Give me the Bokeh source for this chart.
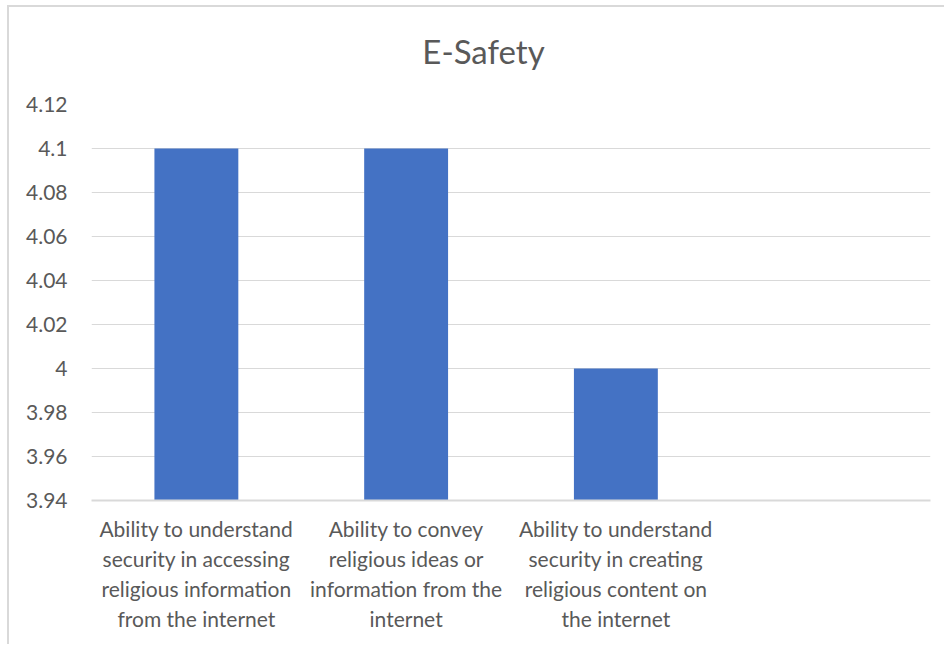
from bokeh.plotting import figure
from bokeh.models import ColumnDataSource, Range1d, FixedTicker, Label
from bokeh.embed import file_html
from bokeh.resources import INLINE

# Data
title_text = "E-Safety"
categories = [
    "Ability to understand\nsecurity in accessing\nreligious information\nfrom the internet",
    "Ability to convey\nreligious ideas or\ninformation from the\ninternet",
    "Ability to understand\nsecurity in creating\nreligious content on\nthe internet",
]
values = [4.1, 4.1, 4.0]
y_ticks = [3.94, 3.96, 3.98, 4.0, 4.02, 4.04, 4.06, 4.08, 4.1, 4.12]
y_tick_labels = ["3.94", "3.96", "3.98", "4", "4.02", "4.04", "4.06", "4.08", "4.1", "4.12"]
n_slots = 4  # one empty category slot at the right

FONT = "Lato"
TXT = "#595959"
GRID = "#d9d9d9"
BAR = "#4472C4"

xs = [i + 0.5 for i in range(len(categories))]
src = ColumnDataSource(dict(x=xs, top=values))

p = figure(width=937, height=639, output_backend="svg", toolbar_location=None,
           x_range=Range1d(0, n_slots), y_range=Range1d(y_ticks[0], y_ticks[-1]),
           min_border_left=82, min_border_right=16, min_border_top=97, min_border_bottom=146)
p.margin = (5, 0, 0, 7)
p.styles = {"border-left": "2px solid #d9d9d9", "border-top": "2px solid #d9d9d9"}

p.vbar(x="x", top="top", bottom=y_ticks[0], width=0.4, source=src,
       fill_color=BAR, line_color=None)

# chart title (centred on the whole chart area, above the plot frame)
p.add_layout(Label(text=title_text, x=392, y=54, x_units="screen", y_units="screen",
                   text_align="center", text_baseline="middle", text_font=FONT,
                   text_font_size="33px", text_color=TXT), "above")

p.outline_line_color = None
p.background_fill_color = "white"
p.border_fill_color = "white"

p.xgrid.grid_line_color = None
p.ygrid.grid_line_color = GRID
p.ygrid.grid_line_width = 1
p.ygrid.ticker = FixedTicker(ticks=y_ticks)

xa = p.xaxis[0]
xa.ticker = FixedTicker(ticks=xs)
xa.major_label_overrides = {x: c for x, c in zip(xs, categories)}
xa.major_label_text_font = FONT
xa.major_label_text_font_size = "21px"
xa.major_label_text_color = TXT
xa.major_label_text_align = "center"
xa.axis_line_color = GRID
xa.axis_line_width = 2
xa.major_tick_line_color = None
xa.minor_tick_line_color = None
xa.major_label_standoff = 9

ya = p.yaxis[0]
ya.ticker = FixedTicker(ticks=y_ticks)
ya.major_label_overrides = {t: l for t, l in zip(y_ticks, y_tick_labels)}
ya.major_label_text_font = FONT
ya.major_label_text_font_size = "21px"
ya.major_label_text_color = TXT
ya.axis_line_color = None
ya.major_tick_line_color = None
ya.minor_tick_line_color = None
ya.major_label_standoff = 18

open("out.html", "w").write(file_html(p, INLINE))
